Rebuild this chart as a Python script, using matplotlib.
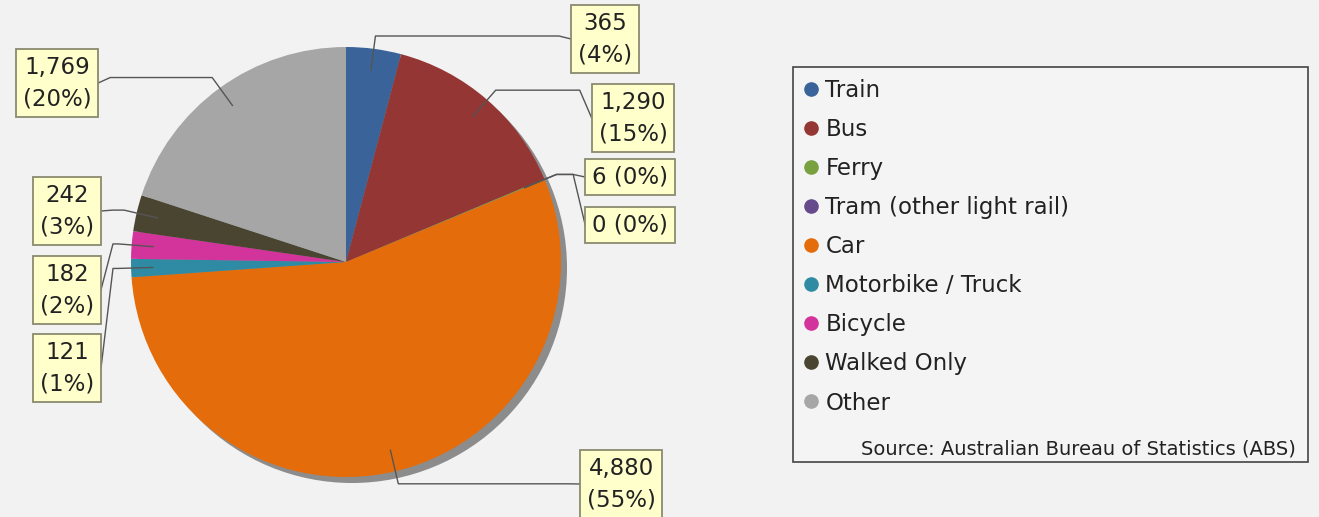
import numpy as np
import matplotlib
matplotlib.use("Agg")
import matplotlib.pyplot as plt
from matplotlib.patches import Circle, Rectangle
from matplotlib.lines import Line2D

categories = ["Train", "Bus", "Ferry", "Tram (other light rail)", "Car",
              "Motorbike / Truck", "Bicycle", "Walked Only", "Other"]
values = [365, 1290, 6, 0, 4880, 121, 182, 242, 1769]
colors = ["#3a6399", "#943634", "#79a140", "#664a8c", "#e46c0a",
          "#2e8ba3", "#d2349c", "#4a4530", "#a6a6a6"]
source = "Source: Australian Bureau of Statistics (ABS)"

W, H = 1319, 517
BG = "#f2f2f2"
CX, CY, R = 346, 262, 215

# label box centres (pixels, top-left origin)
label_pos = {
    0: (605, 39), 1: (633, 118), 2: (630, 177), 3: (630, 225),
    4: (621, 484), 5: (67, 368), 6: (67, 290), 7: (67, 211), 8: (57, 83),
}

fig = plt.figure(figsize=(W / 100, H / 100), dpi=100, facecolor=BG)
ax = fig.add_axes([0, 0, 1, 1])

# drop shadow
ax.add_patch(Circle((CX + 6, CY + 6), R, facecolor="#8c8c8c", edgecolor="none", zorder=0))

wedges, _ = ax.pie(values, colors=colors, startangle=-90, counterclock=True,
                   center=(CX, CY), radius=R, frame=True,
                   wedgeprops=dict(linewidth=0))
ax.set_xlim(0, W)
ax.set_ylim(H, 0)
ax.set_aspect("equal")
ax.axis("off")

total = sum(values)
texts = {}
for i in range(len(values)):
    lx, ly = label_pos[i]
    pct = round(100 * values[i] / total)
    if i in (2, 3):
        txt = f"{values[i]:,} ({pct}%)"
    else:
        txt = f"{values[i]:,}\n({pct}%)"
    texts[i] = ax.text(lx, ly, txt, ha="center", va="center", fontsize=16.5,
                       color="#222222", linespacing=1.45, zorder=5,
                       bbox=dict(boxstyle="square,pad=0.3", facecolor="#ffffcc",
                                 edgecolor="#8a8a70", linewidth=1.3))

fig.canvas.draw()
inv = ax.transData.inverted()

for i, w in enumerate(wedges):
    src = 2 if i == 3 else i  # zero slice shares the ferry route
    ws = wedges[src]
    mid = np.deg2rad((ws.theta1 + ws.theta2) / 2)
    px, py = CX + 0.9 * R * np.cos(mid), CY + 0.9 * R * np.sin(mid)
    ex, ey = CX + 1.06 * R * np.cos(mid), CY + 1.06 * R * np.sin(mid)
    bb = texts[i].get_bbox_patch().get_window_extent()
    (x0, _), (x1, _) = inv.transform([(bb.x0, bb.y0), (bb.x1, bb.y1)])
    lx, ly = label_pos[i]
    if lx > CX:
        bx = min(x0, x1)
        kx = bx - 12
    else:
        bx = max(x0, x1)
        kx = bx + 12
    ax.plot([px, ex, kx, bx], [py, ey, ey, ly], color="#555555", lw=1.0, zorder=3)

# legend
ax.add_patch(Rectangle((793, 67), 515, 395, facecolor="#f4f4f4",
                       edgecolor="#444444", linewidth=1.2, zorder=1))
handles = [Line2D([], [], marker="o", linestyle="none", markersize=9.5,
                  markerfacecolor=c, markeredgecolor=c) for c in colors]
leg = ax.legend(handles, categories, loc="upper left",
                bbox_to_anchor=(796 / W, 1 - 70 / H), frameon=False,
                fontsize=16.5, handlelength=0.55, handletextpad=0.33,
                labelspacing=0.7, borderaxespad=0)
for t in leg.get_texts():
    t.set_color("#222222")
ax.text(1296, 449, source, ha="right", va="center", fontsize=14, color="#222222")

fig.savefig("out.png", dpi=100, facecolor=BG)
